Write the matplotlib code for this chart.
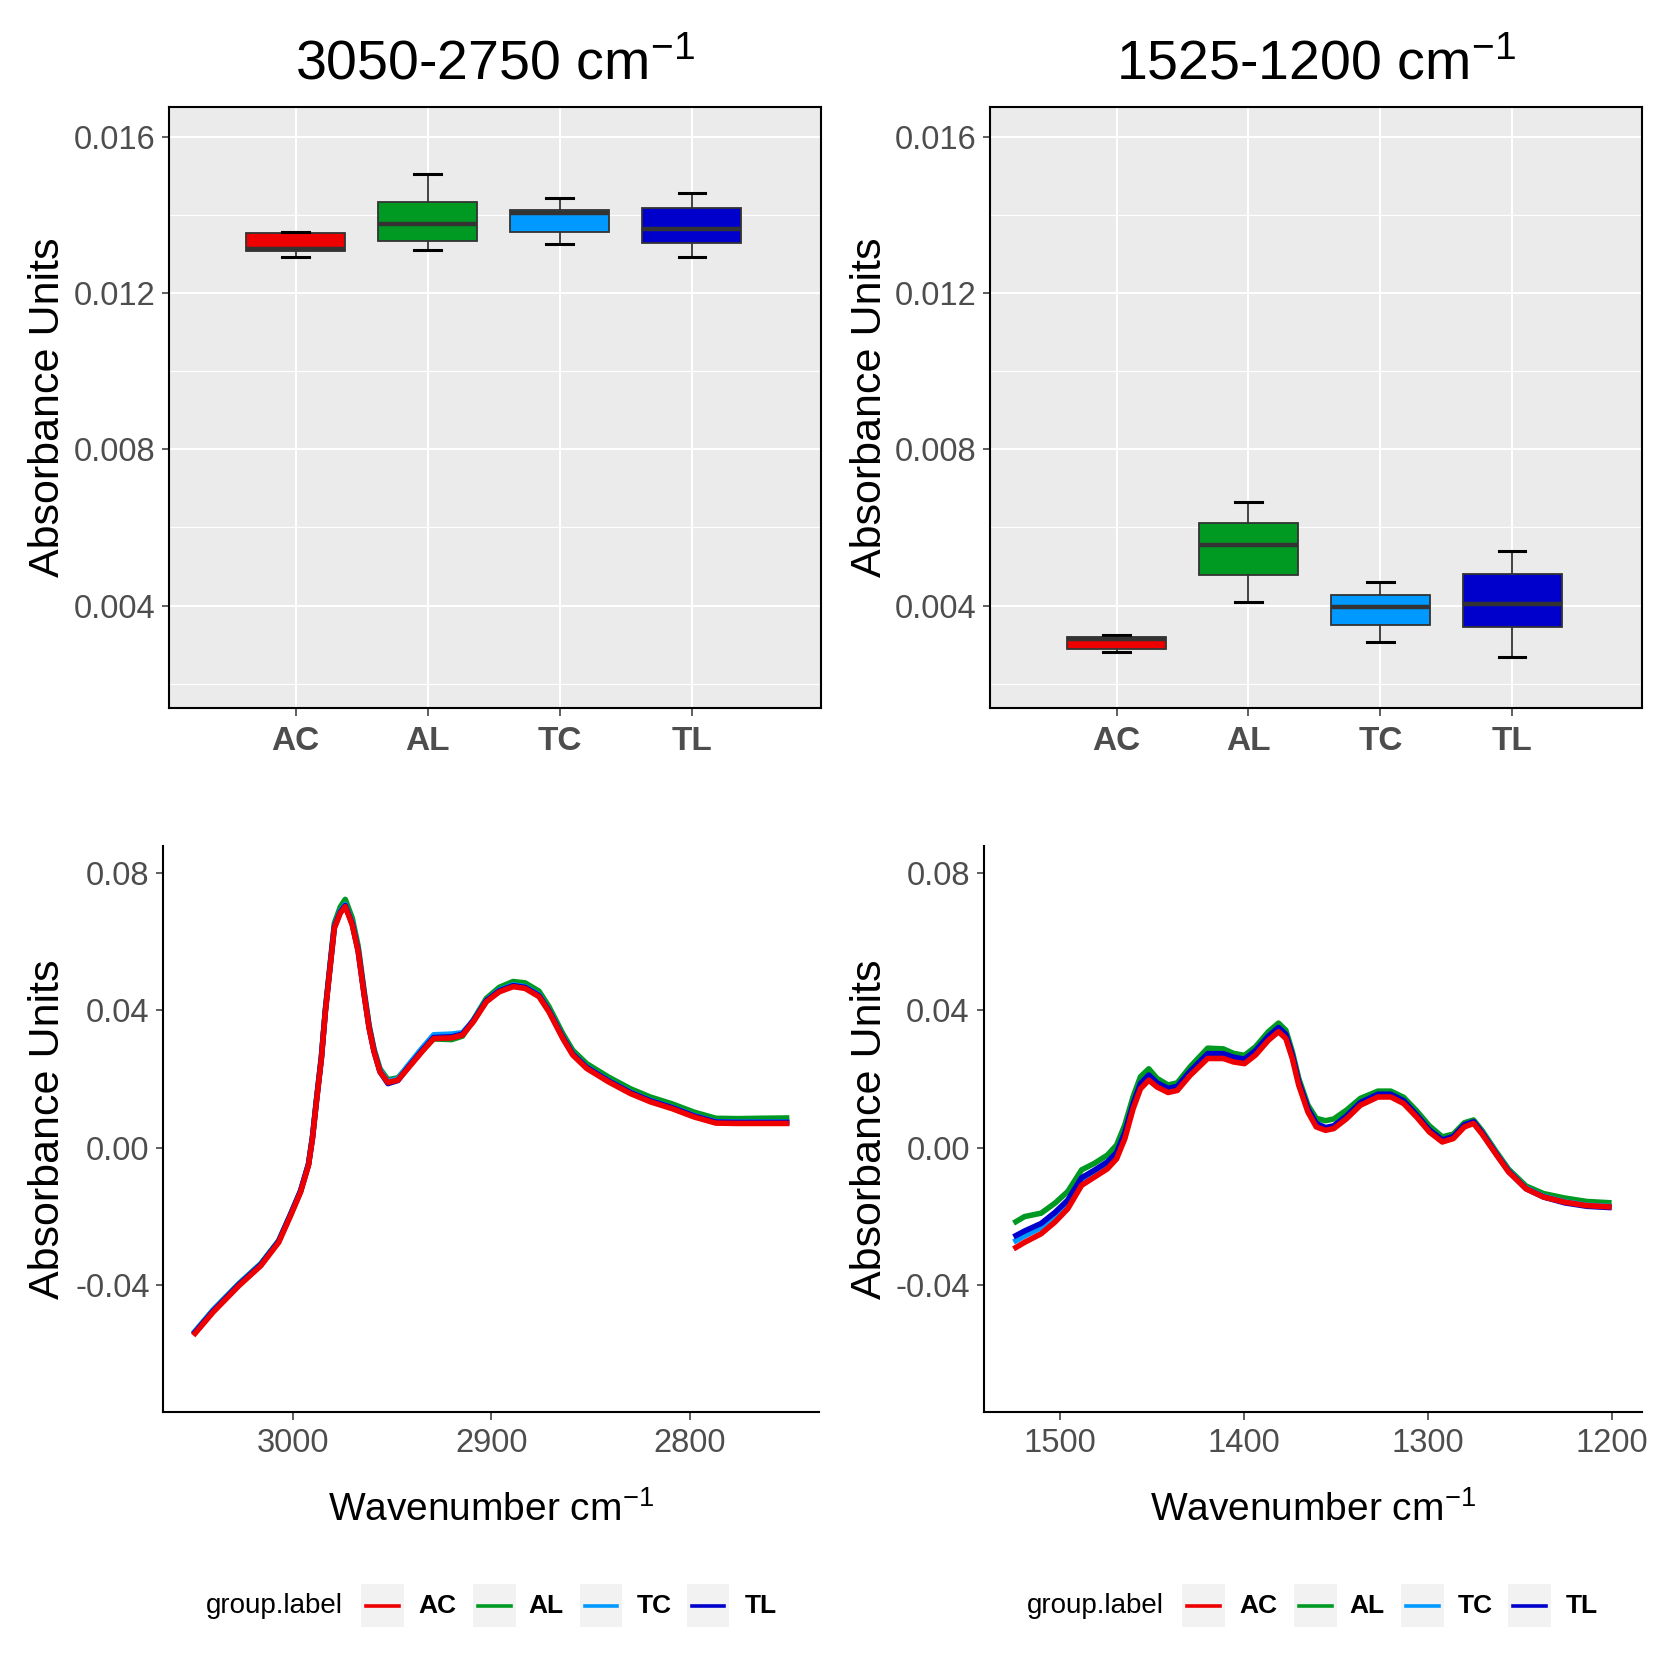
#!/usr/bin/env python3
"""
FTIR absorbance summary: boxplots of integrated band areas per group
(top) and mean spectra of the two spectral windows (bottom).
"""
import matplotlib
matplotlib.use('Agg')
import matplotlib.pyplot as plt
from matplotlib import font_manager
from matplotlib.patches import Rectangle
from matplotlib.lines import Line2D
from matplotlib.ticker import FixedLocator, FuncFormatter

# Groups and colours
GROUPS = ['AC', 'AL', 'TC', 'TL']
COLORS = ['#EE0000', '#009922', '#0099FF', '#0000CC']

# Boxplot stats, 3050-2750 cm-1 window
CH_LOW = [0.01292, 0.01309, 0.01325, 0.01292]
CH_Q1 = [0.01306, 0.01334, 0.01356, 0.01328]
CH_MED = [0.01313, 0.01375, 0.01404, 0.01364]
CH_Q3 = [0.01352, 0.01433, 0.01411, 0.01417]
CH_HIGH = [0.01357, 0.01503, 0.01443, 0.01455]

# Boxplot stats, 1525-1200 cm-1 window
FP_LOW = [0.00280, 0.00410, 0.00307, 0.00269]
FP_Q1 = [0.00290, 0.00479, 0.00351, 0.00345]
FP_MED = [0.00314, 0.00554, 0.00397, 0.00403]
FP_Q3 = [0.00319, 0.00611, 0.00426, 0.00481]
FP_HIGH = [0.00324, 0.00664, 0.00459, 0.00540]

# Mean spectra, 3050-2750 cm-1
WN_CH = [3050, 3040, 3027, 3016, 3007, 3001, 2996, 2992, 2990, 2988, 2985.5,
         2983.5, 2981, 2979, 2976, 2973.5, 2970, 2967, 2964, 2961.5, 2959,
         2956, 2952, 2947, 2942, 2935, 2929, 2920, 2914.5, 2909, 2902.5, 2896,
         2889, 2883, 2876, 2871, 2864, 2859, 2852, 2841, 2830, 2820, 2809,
         2798, 2787, 2776, 2765, 2750]
AC_CH = [-0.0547, -0.0479, -0.0402, -0.0344, -0.0276, -0.0198, -0.0130,
         -0.0052, 0.0026, 0.0133, 0.0259, 0.0395, 0.0531, 0.0638, 0.0682,
         0.0701, 0.0648, 0.0570, 0.0444, 0.0347, 0.0278, 0.0220, 0.0189,
         0.0196, 0.0230, 0.0278, 0.0317, 0.0319, 0.0327, 0.0366, 0.0424,
         0.0453, 0.0468, 0.0463, 0.0439, 0.0395, 0.0317, 0.0269, 0.0230,
         0.0191, 0.0157, 0.0133, 0.0113, 0.0089, 0.0071, 0.0070, 0.0070, 0.0070]
AL_CH = [-0.0542, -0.0473, -0.0396, -0.0338, -0.0271, -0.0194, -0.0127,
         -0.0049, 0.0030, 0.0138, 0.0265, 0.0402, 0.0540, 0.0652, 0.0700,
         0.0722, 0.0668, 0.0586, 0.0456, 0.0356, 0.0286, 0.0229, 0.0197,
         0.0203, 0.0235, 0.0282, 0.0316, 0.0314, 0.0324, 0.0372, 0.0434,
         0.0466, 0.0483, 0.0479, 0.0455, 0.0410, 0.0331, 0.0283, 0.0244,
         0.0205, 0.0171, 0.0147, 0.0127, 0.0103, 0.0085, 0.0084, 0.0085, 0.0086]
TC_CH = [-0.0541, -0.0473, -0.0397, -0.0339, -0.0272, -0.0194, -0.0126,
         -0.0048, 0.0030, 0.0137, 0.0263, 0.0399, 0.0535, 0.0643, 0.0688,
         0.0707, 0.0653, 0.0574, 0.0448, 0.0351, 0.0282, 0.0224, 0.0192,
         0.0200, 0.0238, 0.0288, 0.0328, 0.0330, 0.0334, 0.0370, 0.0428,
         0.0458, 0.0473, 0.0468, 0.0444, 0.0399, 0.0321, 0.0273, 0.0234,
         0.0195, 0.0161, 0.0137, 0.0117, 0.0093, 0.0075, 0.0074, 0.0074, 0.0074]
TL_CH = [-0.0544, -0.0476, -0.0399, -0.0341, -0.0273, -0.0195, -0.0127,
         -0.0049, 0.0029, 0.0136, 0.0262, 0.0398, 0.0534, 0.0641, 0.0685,
         0.0704, 0.0651, 0.0573, 0.0447, 0.0349, 0.0280, 0.0220, 0.0186,
         0.0195, 0.0232, 0.0281, 0.0320, 0.0322, 0.0330, 0.0369, 0.0427,
         0.0456, 0.0471, 0.0466, 0.0442, 0.0398, 0.0320, 0.0272, 0.0233,
         0.0194, 0.0160, 0.0136, 0.0116, 0.0092, 0.0074, 0.0073, 0.0073, 0.0073]

# Mean spectra, 1525-1200 cm-1
WN_FP = [1525, 1519, 1510, 1502.5, 1495.5, 1488, 1481, 1474, 1469, 1464.5,
         1460, 1456, 1451.5, 1447, 1441, 1436, 1429, 1419.5, 1411, 1405.5,
         1399.5, 1393.5, 1386.5, 1381, 1377, 1373.5, 1370, 1365, 1360.5,
         1355.5, 1351, 1344, 1336.5, 1327, 1320, 1313, 1306, 1299, 1292, 1286,
         1280, 1275, 1270.5, 1263, 1256, 1246.5, 1237, 1225.5, 1213.5, 1200]
AC_FP = [-0.0295, -0.0276, -0.0251, -0.0217, -0.0178, -0.0110, -0.0086,
         -0.0062, -0.0033, 0.0026, 0.0113, 0.0171, 0.0196, 0.0176, 0.0160,
         0.0166, 0.0210, 0.0259, 0.0259, 0.0249, 0.0244, 0.0269, 0.0312,
         0.0337, 0.0317, 0.0259, 0.0181, 0.0103, 0.0060, 0.0050, 0.0055,
         0.0084, 0.0123, 0.0147, 0.0147, 0.0128, 0.0089, 0.0045, 0.0016,
         0.0026, 0.0060, 0.0070, 0.0040, -0.0018, -0.0071, -0.0120, -0.0144,
         -0.0159, -0.0169, -0.0173]
AL_FP = [-0.0220, -0.0201, -0.0191, -0.0162, -0.0128, -0.0065, -0.0046,
         -0.0022, 0.0007, 0.0066, 0.0148, 0.0206, 0.0229, 0.0201, 0.0182,
         0.0188, 0.0235, 0.0289, 0.0287, 0.0274, 0.0268, 0.0293, 0.0337,
         0.0362, 0.0341, 0.0279, 0.0201, 0.0123, 0.0085, 0.0078, 0.0083,
         0.0109, 0.0143, 0.0164, 0.0164, 0.0146, 0.0107, 0.0063, 0.0031,
         0.0039, 0.0072, 0.0080, 0.0050, -0.0010, -0.0063, -0.0112, -0.0134,
         -0.0147, -0.0157, -0.0161]
TC_FP = [-0.0275, -0.0257, -0.0233, -0.0201, -0.0163, -0.0097, -0.0074,
         -0.0050, -0.0022, 0.0037, 0.0123, 0.0181, 0.0206, 0.0184, 0.0168,
         0.0174, 0.0218, 0.0268, 0.0268, 0.0258, 0.0253, 0.0278, 0.0320,
         0.0345, 0.0325, 0.0266, 0.0188, 0.0110, 0.0067, 0.0056, 0.0061,
         0.0090, 0.0129, 0.0153, 0.0153, 0.0134, 0.0094, 0.0050, 0.0021,
         0.0031, 0.0065, 0.0074, 0.0044, -0.0015, -0.0068, -0.0118, -0.0142,
         -0.0158, -0.0168, -0.0172]
TL_FP = [-0.0260, -0.0243, -0.0221, -0.0189, -0.0153, -0.0088, -0.0066,
         -0.0042, -0.0015, 0.0044, 0.0128, 0.0186, 0.0211, 0.0188, 0.0172,
         0.0178, 0.0222, 0.0273, 0.0273, 0.0263, 0.0257, 0.0282, 0.0324,
         0.0349, 0.0329, 0.0269, 0.0191, 0.0113, 0.0070, 0.0058, 0.0063,
         0.0092, 0.0131, 0.0155, 0.0155, 0.0136, 0.0095, 0.0051, 0.0022,
         0.0032, 0.0066, 0.0075, 0.0044, -0.0016, -0.0069, -0.0120, -0.0144,
         -0.0161, -0.0171, -0.0175]

TITLES = ['3050-2750 cm$^{-1}$', '1525-1200 cm$^{-1}$']
YLABEL = 'Absorbance Units'
XLABEL = 'Wavenumber cm$^{-1}$'
BOX_YTICKS = [0.004, 0.008, 0.012, 0.016]
BOX_YMINOR = [0.002, 0.006, 0.010, 0.014]
SPEC_YTICKS = [-0.04, 0.00, 0.04, 0.08]

# Fonts (Arial-like; narrow variant used for the plotmath-style titles if present)
avail = {f.name for f in font_manager.fontManager.ttflist}
REG = 'Liberation Sans' if 'Liberation Sans' in avail else 'DejaVu Sans'
NARROW = 'Liberation Sans Narrow' if 'Liberation Sans Narrow' in avail else None
plt.rcParams['font.family'] = [REG, 'DejaVu Sans']
plt.rcParams['mathtext.default'] = 'regular'
plt.rcParams['axes.unicode_minus'] = False
TITLE_KW = dict(family=[NARROW, REG], fontsize=46) if NARROW else dict(fontsize=40)
XLAB_KW = dict(family=[NARROW, REG], fontsize=32) if NARROW else dict(fontsize=28)

TICK_COL = '#4D4D4D'
fig = plt.figure(figsize=(16.66, 16.59), dpi=100)

# Panel rectangles [left, bottom, width, height] in figure fraction
box_rects = [[0.1013, 0.5735, 0.3916, 0.3621], [0.5942, 0.5735, 0.3911, 0.3621]]
spec_rects = [[0.0981, 0.1490, 0.3936, 0.3410], [0.5904, 0.1490, 0.3949, 0.3410]]
ylab_x = [0.0288, 0.5224]

box_data = [(CH_LOW, CH_Q1, CH_MED, CH_Q3, CH_HIGH),
            (FP_LOW, FP_Q1, FP_MED, FP_Q3, FP_HIGH)]
spec_data = [(WN_CH, [AC_CH, AL_CH, TC_CH, TL_CH], (3065, 2735)),
             (WN_FP, [AC_FP, AL_FP, TC_FP, TL_FP], (1541.25, 1183.75))]

positions = [1, 2, 3, 4]

for i in range(2):
    # --- boxplot panel (ggplot grey theme with border)
    r = box_rects[i]
    ax = fig.add_axes(r)
    ax.set_facecolor('#EBEBEB')
    low, q1, med, q3, high = box_data[i]
    stats = [dict(whislo=low[k], q1=q1[k], med=med[k], q3=q3[k], whishi=high[k])
             for k in range(len(GROUPS))]
    bp = ax.bxp(stats, positions=positions, widths=0.75, capwidths=0.2,
                patch_artist=True, showfliers=False,
                boxprops=dict(edgecolor='#333333', linewidth=1.3),
                medianprops=dict(color='#333333', linewidth=3.2),
                whiskerprops=dict(color='#333333', linewidth=1.3),
                capprops=dict(color='black', linewidth=2.2))
    for patch, col in zip(bp['boxes'], COLORS):
        patch.set_facecolor(col)
    ax.set_xlim(0.04, 4.98)
    ax.set_ylim(0.00139, 0.01676)
    ax.set_xticks(positions)
    ax.set_xticklabels(GROUPS, fontweight='bold', fontsize=24, color=TICK_COL)
    ax.yaxis.set_major_locator(FixedLocator(BOX_YTICKS))
    ax.yaxis.set_minor_locator(FixedLocator(BOX_YMINOR))
    ax.yaxis.set_major_formatter(FuncFormatter(lambda v, p: f'{v:.3f}'))
    ax.tick_params(axis='y', which='major', labelsize=23.5, labelcolor=TICK_COL,
                   length=5.4, width=1.1, color='#333333', pad=4.5)
    ax.tick_params(axis='y', which='minor', length=0)
    ax.tick_params(axis='x', length=5.4, width=1.1, color='#333333', pad=8)
    ax.grid(True, which='major', color='white', linewidth=1.5)
    ax.grid(True, which='minor', axis='y', color='white', linewidth=0.8)
    ax.set_axisbelow(True)
    for sp in ax.spines.values():
        sp.set_color('black')
        sp.set_linewidth(1.5)
    fig.text(ylab_x[i], r[1] + r[3] / 2, YLABEL, rotation=90, ha='center',
             va='center', fontsize=31)
    fig.text(r[0] + r[2] / 2, 0.9526, TITLES[i], ha='center', va='baseline',
             **TITLE_KW)

    # --- spectra panel (classic theme)
    s = spec_rects[i]
    ax2 = fig.add_axes(s)
    wn, curves, xlim = spec_data[i]
    for k in [1, 2, 3, 0]:
        ax2.plot(wn, curves[k], color=COLORS[k], linewidth=4.0,
                 solid_joinstyle='round', solid_capstyle='butt')
    ax2.set_xlim(*xlim)
    ax2.set_ylim(-0.0769, 0.0877)
    ax2.yaxis.set_major_locator(FixedLocator(SPEC_YTICKS))
    ax2.yaxis.set_major_formatter(FuncFormatter(lambda v, p: f'{v:.2f}'))
    ax2.tick_params(labelsize=23.5, labelcolor=TICK_COL, length=5.4, width=1.1,
                    color='#333333')
    ax2.tick_params(axis='y', pad=4.5)
    ax2.tick_params(axis='x', pad=6)
    for name in ['top', 'right']:
        ax2.spines[name].set_visible(False)
    for name in ['left', 'bottom']:
        ax2.spines[name].set_color('black')
        ax2.spines[name].set_linewidth(1.5)
    fig.text(ylab_x[i], s[1] + s[3] / 2, YLABEL, rotation=90, ha='center',
             va='center', fontsize=31)
    fig.text(s[0] + s[2] / 2, 0.0835, XLABEL, ha='center', va='baseline',
             **XLAB_KW)

# --- legends drawn beneath each spectra panel
LEG_Y = 0.0322
KEY_W, KEY_H = 0.0256, 0.0264
key_left = [0.2167, 0.2840, 0.3480, 0.4122]
lab_left = [0.2513, 0.3173, 0.3820, 0.4468]
for dx in [0.0, 0.4929]:
    fig.text(0.1237 + dx, LEG_Y, 'group.label', ha='left', va='center',
             fontsize=20)
    for k, grp in enumerate(GROUPS):
        x0 = key_left[k] + dx
        fig.add_artist(Rectangle((x0, LEG_Y - KEY_H / 2), KEY_W, KEY_H,
                                 transform=fig.transFigure, facecolor='#F2F2F2',
                                 edgecolor='none'))
        fig.add_artist(Line2D([x0 + 0.003, x0 + KEY_W - 0.003], [LEG_Y, LEG_Y],
                              transform=fig.transFigure, color=COLORS[k],
                              linewidth=2.6))
        fig.text(lab_left[k] + dx, LEG_Y, grp, ha='left', va='center',
                 fontsize=19, fontweight='bold')

fig.savefig('out.png', dpi=100)
